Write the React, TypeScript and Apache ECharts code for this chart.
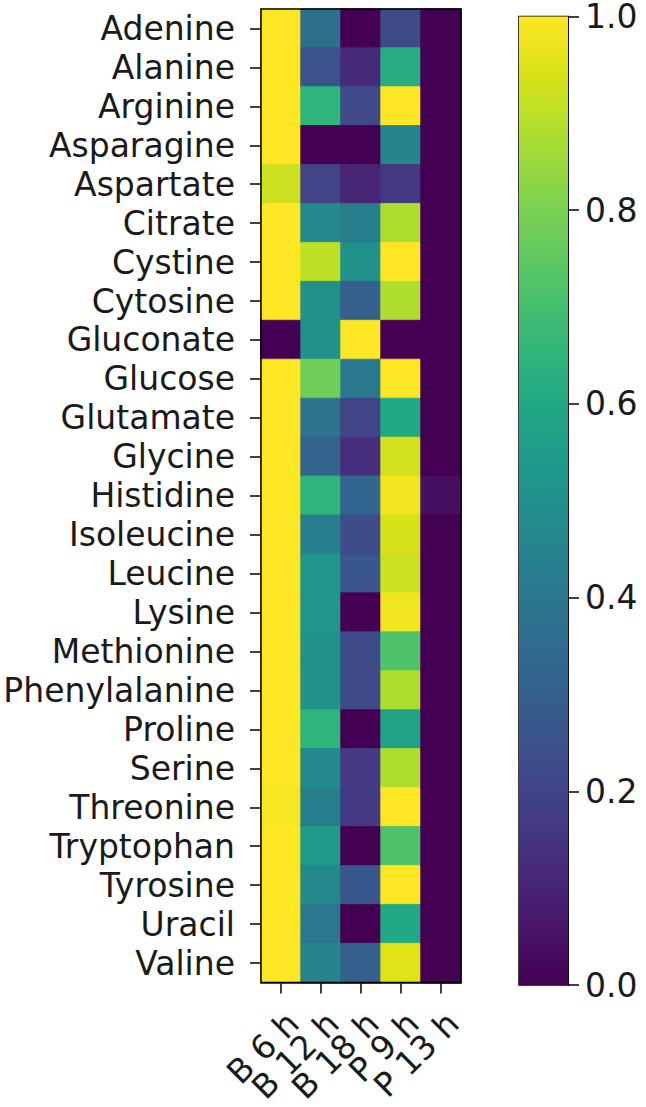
import React, { useEffect, useRef } from "react";
import * as echarts from "echarts";

const compounds = [
  "Adenine", "Alanine", "Arginine", "Asparagine", "Aspartate", "Citrate", "Cystine",
  "Cytosine", "Gluconate", "Glucose", "Glutamate", "Glycine", "Histidine", "Isoleucine",
  "Leucine", "Lysine", "Methionine", "Phenylalanine", "Proline", "Serine", "Threonine",
  "Tryptophan", "Tyrosine", "Uracil", "Valine",
];

const timepoints = ["B 6 h", "B 12 h", "B 18 h", "P 9 h", "P 13 h"];

const b6h = [1, 1, 1, 1, 0.92, 1, 1, 1, 0, 1, 1, 1, 1, 1, 1, 1, 1, 1, 1, 1, 0.99, 1, 1, 1, 1];
const b12h = [0.37, 0.25, 0.65, 0, 0.2, 0.47, 0.9, 0.5, 0.5, 0.78, 0.38, 0.32, 0.65, 0.42, 0.52, 0.52, 0.5, 0.5, 0.65, 0.47, 0.43, 0.55, 0.47, 0.4, 0.45];
const b18h = [0, 0.12, 0.22, 0, 0.1, 0.43, 0.5, 0.3, 1, 0.4, 0.2, 0.13, 0.33, 0.23, 0.27, 0, 0.22, 0.22, 0, 0.17, 0.17, 0, 0.27, 0, 0.3];
const p9h = [0.22, 0.62, 1, 0.45, 0.17, 0.88, 1, 0.88, 0, 1, 0.6, 0.93, 0.98, 0.94, 0.92, 0.98, 0.72, 0.88, 0.58, 0.88, 1, 0.72, 1, 0.6, 0.95];
const p13h = [0, 0, 0, 0, 0, 0, 0, 0, 0, 0, 0, 0, 0.04, 0, 0, 0, 0, 0, 0, 0, 0, 0, 0, 0, 0];

const colorbarTicks = [0, 0.2, 0.4, 0.6, 0.8, 1.0];

const viridis = [
  "#440154", "#471365", "#482475", "#463480", "#414487", "#3b528b", "#355f8d",
  "#2f6c8e", "#2a788e", "#25848e", "#21918c", "#1e9c89", "#22a884", "#2fb47c",
  "#44bf70", "#5ec962", "#7ad151", "#9bd93c", "#bddf26", "#dfe318", "#fde725",
];

const FONT = "DejaVu Sans";
const FS = 33;

export default function App() {
  const ref = useRef<HTMLDivElement>(null);
  useEffect(() => {
    if (!ref.current) return;
    const chart = echarts.init(ref.current, null, { renderer: "svg" });
    const columns = [b6h, b12h, b18h, p9h, p13h];
    const data: any[] = [];
    columns.forEach((col, xi) =>
      col.forEach((v, yi) =>
        data.push({
          value: [xi, yi, v],
          itemStyle: { borderColor: echarts.color.lerp(v, viridis), borderWidth: 0.8 },
        })
      )
    );

    const stops = viridis.map((c, i) => ({ offset: i / (viridis.length - 1), color: c }));

    chart.setOption({
      animation: false,
      backgroundColor: "#ffffff",
      grid: [
        { left: 261, top: 9, width: 200, height: 975, show: true, borderColor: "#000", borderWidth: 1.5, backgroundColor: "transparent", z: 5 },
        { left: 519, top: 14, width: 49, height: 971, show: true, borderColor: "#000", borderWidth: 1.5, backgroundColor: "transparent" },
      ],
      visualMap: {
        show: false,
        min: 0,
        max: 1,
        seriesIndex: 0,
        inRange: { color: viridis },
      },
      xAxis: [
        {
          type: "category",
          data: timepoints,
          gridIndex: 0,
          position: "bottom",
          axisLine: { show: true, lineStyle: { color: "#000", width: 1.5 } },
          axisTick: { show: true, alignWithLabel: true, length: 11, lineStyle: { color: "#000", width: 1.5 } },
          axisLabel: { rotate: 45, color: "#1a1a1a", fontFamily: FONT, fontSize: FS, margin: 23, interval: 0, verticalAlign: "top", lineHeight: 34 },
          splitLine: { show: false },
        },
        {
          type: "category",
          data: ["cb"],
          gridIndex: 1,
          show: false,
        },
      ],
      yAxis: [
        {
          type: "category",
          data: compounds,
          gridIndex: 0,
          inverse: true,
          axisLine: { show: true, lineStyle: { color: "#000", width: 1.5 } },
          axisTick: { show: true, alignWithLabel: true, length: 11, lineStyle: { color: "#000", width: 1.5 } },
          axisLabel: { color: "#1a1a1a", fontFamily: FONT, fontSize: FS, margin: 26, interval: 0 },
          splitLine: { show: false },
        },
        {
          type: "value",
          gridIndex: 1,
          position: "right",
          min: 0,
          max: 1,
          interval: 0.2,
          axisLine: { show: true, lineStyle: { color: "#000", width: 1.5 } },
          axisTick: { show: true, length: 11, lineStyle: { color: "#000", width: 1.5 } },
          axisLabel: {
            color: "#1a1a1a",
            fontFamily: FONT,
            fontSize: FS,
            lineHeight: 26,
            margin: 17,
            formatter: (v: number) => v.toFixed(1),
            customValues: colorbarTicks,
          },
          splitLine: { show: false },
        },
      ],
      series: [
        {
          type: "heatmap",
          xAxisIndex: 0,
          yAxisIndex: 0,
          data,
          emphasis: { disabled: true },
        },
        {
          type: "bar",
          xAxisIndex: 1,
          yAxisIndex: 1,
          data: [1],
          barWidth: "100%",
          itemStyle: { color: new echarts.graphic.LinearGradient(0, 1, 0, 0, stops) },
          silent: true,
        },
      ],
    });
    return () => chart.dispose();
  }, []);
  return <div ref={ref} style={{ position: "absolute", left: 0, top: 0, width: 646, height: 1107 }} />;
}
